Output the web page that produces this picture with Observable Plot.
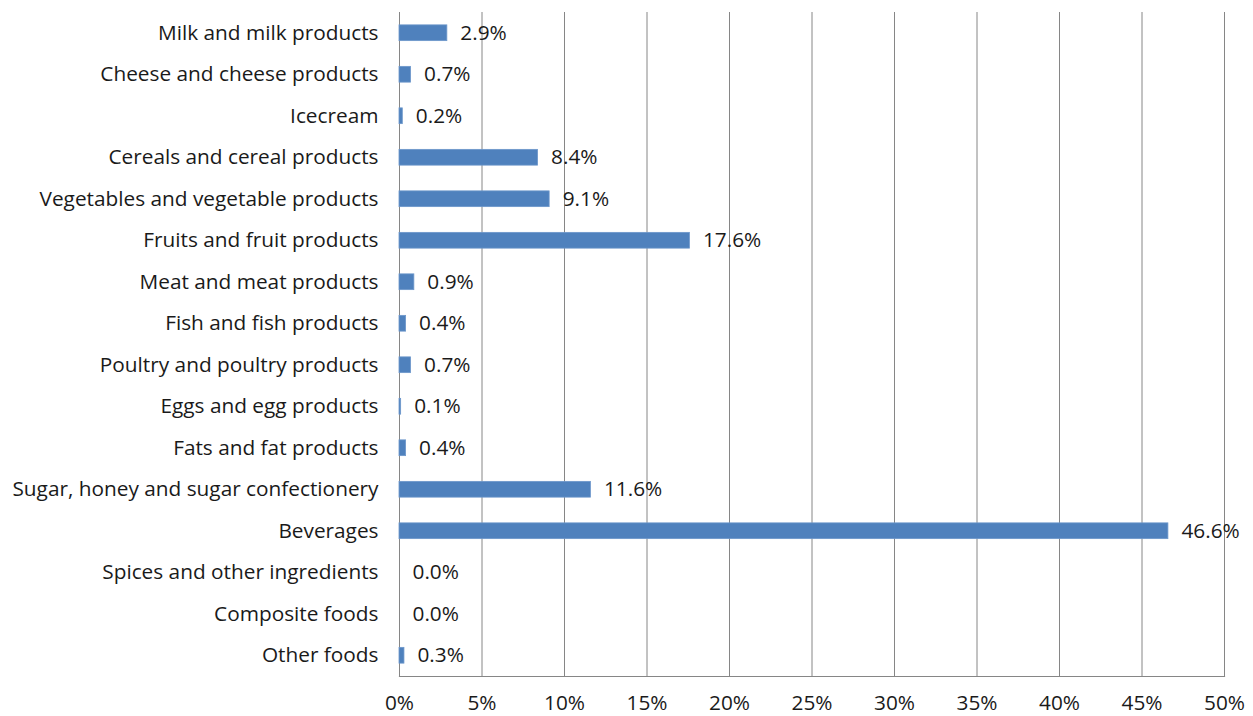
<!DOCTYPE html>
<html>
<head>
<meta charset="utf-8">
<script src="https://cdn.jsdelivr.net/npm/d3@7"></script>
<script src="https://cdn.jsdelivr.net/npm/@observablehq/plot@0.6"></script>
<style>
  html, body { margin: 0; padding: 0; background: #fff; }
  #chart svg { display: block; }
</style>
</head>
<body>
<div id="chart"></div>
<script>
const categories = [
  "Milk and milk products",
  "Cheese and cheese products",
  "Icecream",
  "Cereals and cereal products",
  "Vegetables and vegetable products",
  "Fruits and fruit products",
  "Meat and meat products",
  "Fish and fish products",
  "Poultry and poultry products",
  "Eggs and egg products",
  "Fats and fat products",
  "Sugar, honey and sugar confectionery",
  "Beverages",
  "Spices and other ingredients",
  "Composite foods",
  "Other foods"
];
const values = [2.9, 0.7, 0.2, 8.4, 9.1, 17.6, 0.9, 0.4, 0.7, 0.1, 0.4, 11.6, 46.6, 0.0, 0.0, 0.3];
const xTicks = [0, 5, 10, 15, 20, 25, 30, 35, 40, 45, 50];

const data = categories.map((c, i) => ({category: c, value: values[i]}));
const FONT = "'Open Sans', sans-serif";
const FS = 20.8;

const chart = Plot.plot({
  width: 1253,
  height: 716,
  marginLeft: 399,
  marginRight: 29,
  marginTop: 12,
  marginBottom: 40,
  style: {fontFamily: FONT, fontSize: FS + "px", color: "#1a1a1a"},
  x: {domain: [0, 50], ticks: xTicks, tickFormat: d => d + "%"},
  y: {domain: categories, paddingInner: 0.62, paddingOuter: 0.31, align: 0.5, round: false},
  marks: [
    Plot.ruleX(xTicks, {stroke: "#868686", strokeWidth: 1, strokeOpacity: 1}),
    Plot.frame({anchor: "bottom", stroke: "#868686", strokeWidth: 1.2, strokeOpacity: 1}),
    Plot.barX(data, {y: "category", x: "value", fill: "#4f81bd", stroke: "#6d97cb", strokeWidth: 0.8}),
    Plot.text(data, {y: "category", x: "value", text: d => d.value.toFixed(1) + "%", textAnchor: "start", dx: 13, fill: "#1a1a1a", fontSize: FS}),
    Plot.axisY({tickSize: 0, tickPadding: 21, label: null, fontSize: FS}),
    Plot.axisX({ticks: xTicks, tickFormat: d => d + "%", tickSize: 0, tickPadding: 19, label: null, fontSize: FS})
  ]
});
document.getElementById("chart").appendChild(chart);
</script>
</body>
</html>
